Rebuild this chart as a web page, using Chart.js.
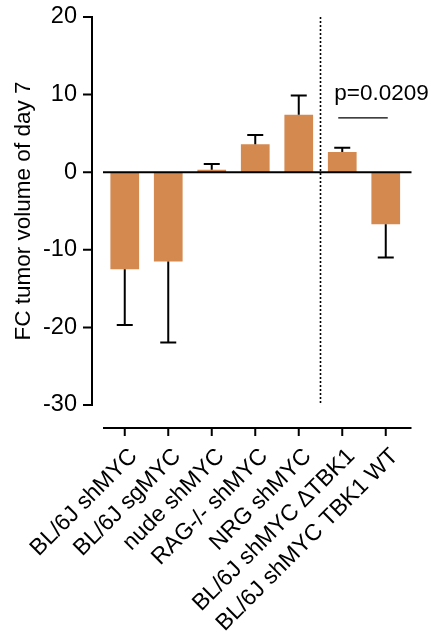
<!DOCTYPE html>
<html>
<head>
<meta charset="utf-8">
<script src="https://cdn.jsdelivr.net/npm/chart.js@4.4.1/dist/chart.umd.min.js"></script>
<style>
  html, body { margin: 0; padding: 0; background: #fff; }
  #wrap { width: 428px; height: 632px; }
</style>
</head>
<body>
<div id="wrap"><canvas id="chart"></canvas></div>
<script>
const groups = ["BL/6J shMYC", "BL/6J sgMYC", "nude shMYC", "RAG-/- shMYC", "NRG shMYC", "BL/6J shMYC \u2206TBK1", "BL/6J shMYC TBK1 WT"];
const fcValues = [-12.5, -11.5, 0.3, 3.6, 7.4, 2.6, -6.7];
const fcErrors = [7.2, 10.45, 0.75, 1.2, 2.5, 0.55, 4.3];
const yTicks = [-30, -20, -10, 0, 10, 20];
const pLabel = "p=0.0209";
const pLevel = 7;

const FONT = "'Liberation Sans', Arial, sans-serif";

// prism-like axes, error bars, divider and p-value
const prismAxes = {
  id: "prismAxes",
  afterDatasetsDraw(chart) {
    const { ctx, chartArea, scales: { x, y } } = chart;
    ctx.save();
    ctx.strokeStyle = "#000";
    ctx.lineWidth = 2;

    // error bars (one-sided, away from zero)
    const meta = chart.getDatasetMeta(0);
    meta.data.forEach((bar, i) => {
      const v = fcValues[i];
      const end = v < 0 ? v - fcErrors[i] : v + fcErrors[i];
      const yEnd = y.getPixelForValue(end);
      ctx.beginPath();
      ctx.moveTo(bar.x, y.getPixelForValue(v));
      ctx.lineTo(bar.x, yEnd);
      ctx.moveTo(bar.x - 8, yEnd);
      ctx.lineTo(bar.x + 8, yEnd);
      ctx.stroke();
    });

    // zero line
    const y0 = y.getPixelForValue(0);
    ctx.beginPath();
    ctx.moveTo(chartArea.left, y0);
    ctx.lineTo(chartArea.right + 4, y0);
    ctx.stroke();

    // y axis, offset to the left
    const ax = chartArea.left - 11;
    const yTop = y.getPixelForValue(yTicks[yTicks.length - 1]);
    const yBot = y.getPixelForValue(yTicks[0]);
    ctx.beginPath();
    ctx.moveTo(ax, yTop - 1);
    ctx.lineTo(ax, yBot + 1);
    yTicks.forEach(t => {
      const py = y.getPixelForValue(t);
      ctx.moveTo(ax - 9, py);
      ctx.lineTo(ax, py);
    });
    ctx.stroke();

    // x axis, offset below
    const axY = chartArea.bottom + 23;
    ctx.beginPath();
    ctx.moveTo(chartArea.left, axY);
    ctx.lineTo(chartArea.right + 4, axY);
    groups.forEach((g, i) => {
      const px = x.getPixelForValue(i);
      ctx.moveTo(px, axY);
      ctx.lineTo(px, axY + 8);
    });
    ctx.stroke();

    // dotted divider
    const dx = (x.getPixelForValue(4) + x.getPixelForValue(5)) / 2;
    ctx.lineWidth = 1.6;
    ctx.setLineDash([2, 2]);
    ctx.beginPath();
    ctx.moveTo(dx, yTop);
    ctx.lineTo(dx, yBot);
    ctx.stroke();
    ctx.setLineDash([]);

    // p-value bracket
    const x5 = x.getPixelForValue(5);
    const x6 = x.getPixelForValue(6);
    const py = y.getPixelForValue(pLevel);
    ctx.lineWidth = 1.3;
    ctx.beginPath();
    ctx.moveTo(x5 - 4, py);
    ctx.lineTo(x6 + 2, py);
    ctx.stroke();
    ctx.fillStyle = "#000";
    ctx.font = "22.5px " + FONT;
    ctx.textAlign = "left";
    ctx.textBaseline = "alphabetic";
    ctx.fillText(pLabel, x5 - 8, y.getPixelForValue(pLevel + 2.3));
    ctx.restore();
  }
};

new Chart(document.getElementById("chart"), {
  type: "bar",
  data: {
    labels: groups,
    datasets: [{
      data: fcValues,
      backgroundColor: "#D4894F",
      borderWidth: 0,
      barPercentage: 0.66,
      categoryPercentage: 1
    }]
  },
  options: {
    responsive: true,
    maintainAspectRatio: false,
    animation: false,
    layout: { padding: { top: 17, right: 20.5, left: 0, bottom: 0 } },
    plugins: { legend: { display: false }, tooltip: { enabled: false } },
    scales: {
      x: {
        grid: { display: false },
        border: { display: false },
        ticks: {
          color: "#000",
          font: { family: FONT, size: 23 },
          minRotation: 45,
          maxRotation: 45,
          autoSkip: false,
          padding: 30,
          labelOffset: 9
        },
        afterFit: s => { s.height = 227; s.paddingLeft = 0; s.paddingRight = 0; }
      },
      y: {
        min: -30,
        max: 20,
        grid: { display: false, drawTicks: false },
        border: { display: false },
        afterBuildTicks: s => { s.ticks = yTicks.map(v => ({ value: v })); },
        ticks: {
          color: "#000",
          font: { family: FONT, size: 23.5 },
          padding: 26
        },
        title: {
          display: true,
          text: "FC tumor volume of day 7",
          color: "#000",
          font: { family: FONT, size: 22.5 },
          padding: { top: 10, bottom: 0 }
        },
        afterFit: s => { s.width = 103; s.paddingTop = 0; s.paddingBottom = 0; }
      }
    }
  },
  plugins: [prismAxes]
});
</script>
</body>
</html>
